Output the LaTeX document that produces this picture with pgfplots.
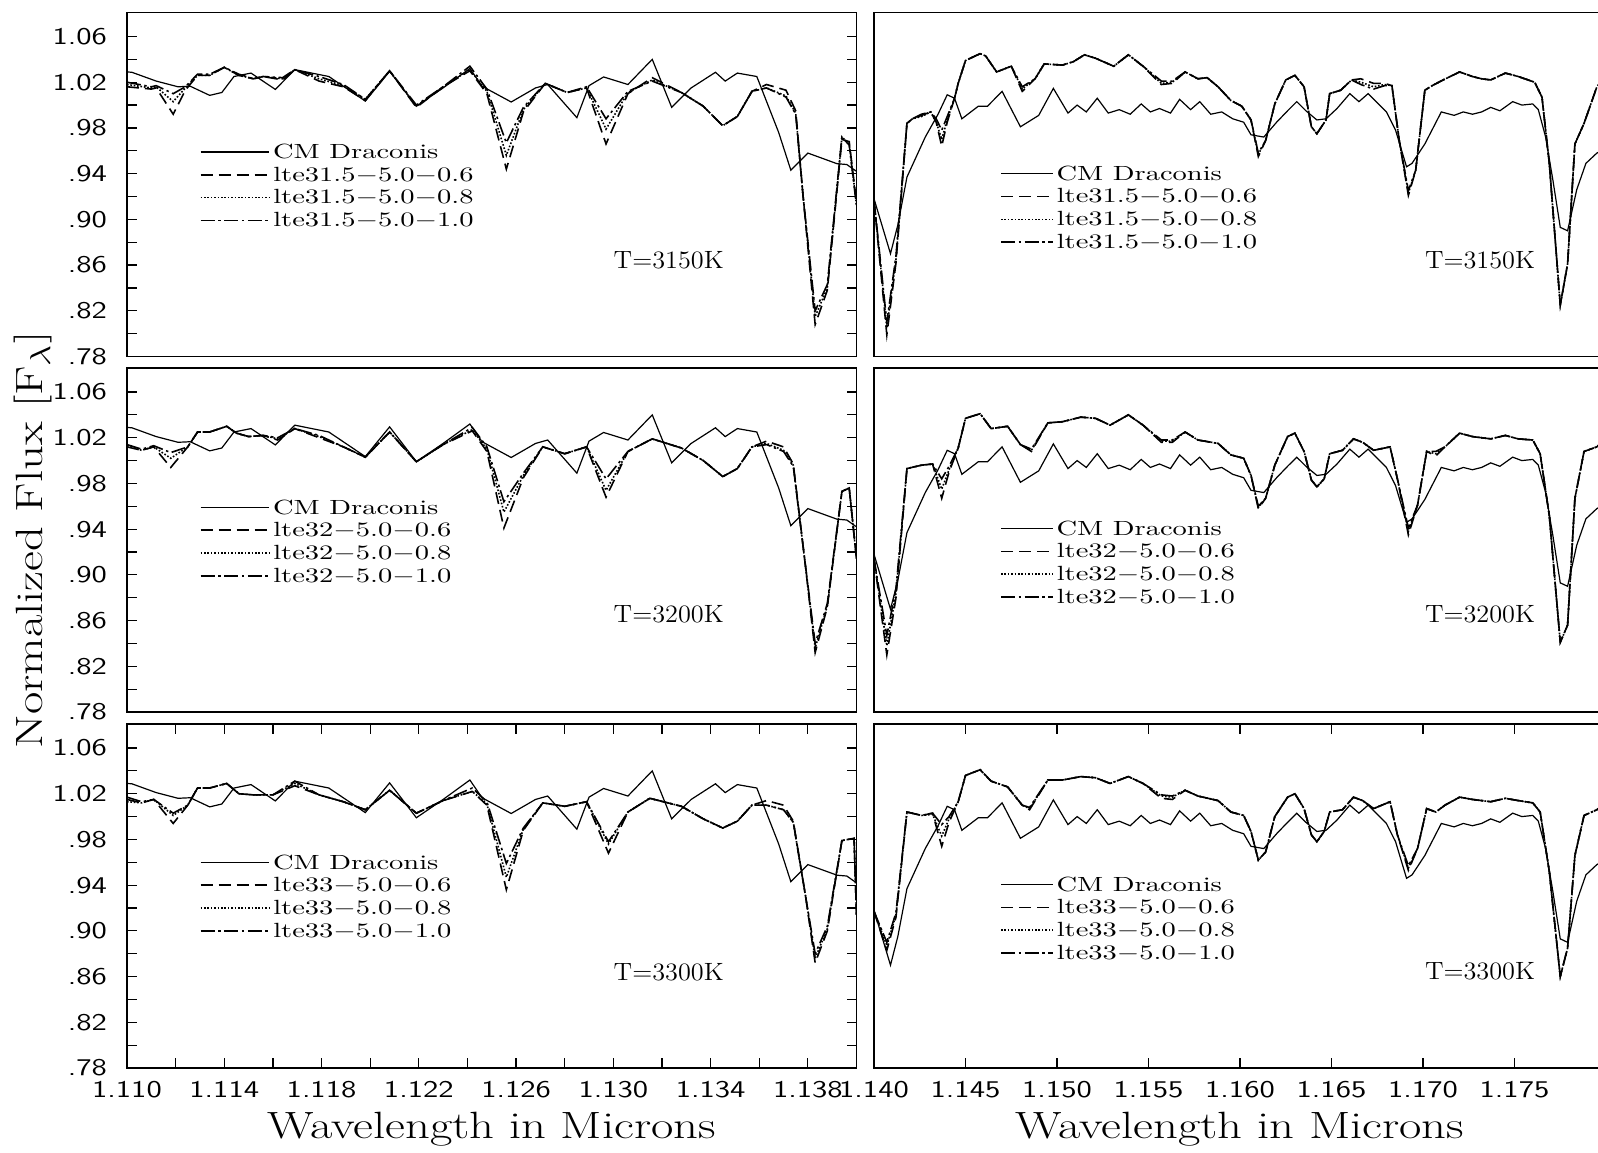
\documentclass[border=0pt]{standalone}
\usepackage{graphicx}
\usepackage{pgfplots}
\pgfplotsset{compat=1.18}
\usepackage{pgfplotstable}

% observed spectrum, left column
\pgfplotstableread{
x y
1.1100 1.0290
1.1102 1.0287
1.1112 1.0210
1.1121 1.0160
1.1126 1.0165
1.1134 1.0085
1.1139 1.0110
1.1144 1.0250
1.1151 1.0280
1.1161 1.0137
1.1169 1.0310
1.1183 1.0250
1.1198 1.0035
1.1208 1.0295
1.1219 0.9990
1.1230 1.0150
1.1241 1.0320
1.1246 1.0165
1.1258 1.0027
1.1268 1.0150
1.1273 1.0180
1.1285 0.9890
1.1290 1.0170
1.1296 1.0246
1.1306 1.0180
1.1316 1.0400
1.1324 0.9980
1.1332 1.0150
1.1342 1.0287
1.1346 1.0210
1.1351 1.0280
1.1359 1.0250
1.1368 0.9760
1.1373 0.9430
1.1380 0.9580
1.1392 0.9487
1.1396 0.9480
1.1400 0.9420
}\obsL

% observed spectrum, right column
\pgfplotstableread{
x y
1.1400 0.918
1.1409 0.870
1.1413 0.895
1.1418 0.937
1.1428 0.972
1.1435 0.992
1.1440 1.009
1.1444 1.006
1.1448 0.988
1.1457 0.999
1.1462 0.999
1.1470 1.012
1.1480 0.981
1.1490 0.991
1.1498 1.0146
1.1506 0.993
1.1511 1.000
1.1516 0.994
1.1522 1.006
1.1528 0.993
1.1534 0.996
1.1540 0.992
1.1546 1.001
1.1551 0.994
1.1556 0.997
1.1562 0.993
1.1567 1.005
1.1573 0.996
1.1578 1.003
1.1584 0.992
1.1590 0.994
1.1596 0.988
1.1602 0.985
1.1606 0.974
1.1613 0.972
1.1620 0.985
1.1626 0.995
1.1631 1.003
1.1636 0.995
1.1642 0.987
1.1647 0.988
1.1653 0.997
1.1660 1.010
1.1665 1.003
1.1670 1.010
1.1680 0.994
1.1685 0.978
1.1691 0.946
1.1694 0.949
1.1701 0.966
1.1710 0.994
1.1717 0.991
1.1722 0.994
1.1727 0.992
1.1732 0.994
1.1737 0.998
1.1742 0.995
1.1749 1.003
1.1754 1.000
1.1760 1.001
1.1763 0.996
1.1767 0.972
1.1771 0.934
1.1775 0.893
1.1779 0.890
1.1784 0.926
1.1789 0.949
1.1795 0.958
1.1800 0.962
}\obsR

% models, left column, T=3150K  (a: -0.6, b: -0.8, c: -1.0)
\pgfplotstableread{
x a b c
1.1100 1.016 1.018 1.020
1.1110 1.014 1.015 1.016
1.1112 1.015 1.016 1.017
1.1119 0.992 1.003 1.010
1.1124 1.013 1.015 1.016
1.1129 1.026 1.026 1.027
1.1134 1.026 1.026 1.027
1.1140 1.033 1.033 1.033
1.1146 1.026 1.026 1.027
1.1152 1.023 1.023 1.023
1.1156 1.025 1.025 1.025
1.1164 1.022 1.023 1.024
1.1169 1.031 1.031 1.031
1.1179 1.021 1.023 1.025
1.1189 1.016 1.017 1.018
1.1198 1.004 1.005 1.005
1.1208 1.030 1.030 1.030
1.1219 0.998 0.999 1.000
1.1230 1.016 1.016 1.016
1.1241 1.030 1.031 1.034
1.1248 1.010 1.012 1.014
1.1256 0.944 0.956 0.967
1.1263 0.994 0.996 0.998
1.1272 1.019 1.019 1.019
1.1281 1.011 1.011 1.011
1.1289 1.015 1.015 1.016
1.1297 0.966 0.979 0.988
1.1306 1.010 1.011 1.012
1.1316 1.024 1.022 1.021
1.1328 1.011 1.011 1.011
1.1337 0.999 0.999 0.999
1.1345 0.982 0.982 0.982
1.1351 0.990 0.990 0.990
1.1357 1.012 1.012 1.012
1.1363 1.018 1.015 1.015
1.1371 1.013 1.008 1.007
1.1375 0.995 0.993 0.992
1.1378 0.921 0.921 0.921
1.1383 0.808 0.815 0.820
1.1388 0.838 0.840 0.843
1.1394 0.970 0.972 0.972
1.1397 0.968 0.966 0.965
1.1400 0.915 0.913 0.912
}\modLa

% models, left column, T=3200K
\pgfplotstableread{
x a b c
1.1100 1.012 1.013 1.014
1.1106 1.009 1.009 1.010
1.1111 1.012 1.012 1.013
1.1118 0.994 1.002 1.007
1.1125 1.012 1.012 1.012
1.1129 1.025 1.025 1.025
1.1134 1.025 1.025 1.025
1.1141 1.030 1.030 1.030
1.1145 1.024 1.024 1.024
1.1150 1.021 1.021 1.021
1.1156 1.022 1.022 1.022
1.1162 1.018 1.019 1.020
1.1169 1.028 1.028 1.028
1.1179 1.020 1.021 1.022
1.1189 1.012 1.012 1.012
1.1198 1.003 1.003 1.003
1.1208 1.025 1.025 1.025
1.1219 0.999 0.999 0.999
1.1230 1.014 1.014 1.014
1.1242 1.026 1.027 1.029
1.1248 1.008 1.010 1.012
1.1255 0.941 0.955 0.964
1.1263 0.985 0.987 0.989
1.1271 1.012 1.012 1.012
1.1280 1.006 1.006 1.006
1.1289 1.012 1.012 1.012
1.1297 0.968 0.974 0.984
1.1306 1.008 1.008 1.008
1.1316 1.019 1.019 1.019
1.1328 1.011 1.011 1.011
1.1337 1.000 1.000 1.000
1.1345 0.986 0.986 0.986
1.1351 0.993 0.993 0.993
1.1357 1.012 1.012 1.012
1.1363 1.017 1.015 1.014
1.1370 1.012 1.009 1.008
1.1374 0.997 0.996 0.995
1.1379 0.908 0.908 0.908
1.1383 0.832 0.836 0.840
1.1388 0.872 0.873 0.875
1.1394 0.973 0.973 0.973
1.1397 0.976 0.976 0.976
1.1400 0.914 0.914 0.914
}\modLb

% models, left column, T=3300K
\pgfplotstableread{
x a b c
1.1100 1.015 1.013 1.017
1.1106 1.012 1.012 1.013
1.1111 1.015 1.015 1.015
1.1119 0.994 1.001 1.003
1.1125 1.010 1.010 1.010
1.1129 1.025 1.025 1.025
1.1134 1.025 1.025 1.025
1.1141 1.029 1.029 1.029
1.1146 1.020 1.020 1.020
1.1152 1.019 1.019 1.019
1.1160 1.019 1.019 1.019
1.1169 1.027 1.029 1.031
1.1179 1.019 1.019 1.019
1.1189 1.013 1.013 1.013
1.1198 1.006 1.006 1.006
1.1208 1.023 1.023 1.023
1.1219 1.003 1.003 1.003
1.1230 1.014 1.014 1.014
1.1242 1.022 1.022 1.025
1.1248 1.010 1.011 1.013
1.1256 0.936 0.947 0.959
1.1263 0.988 0.989 0.990
1.1271 1.012 1.012 1.012
1.1280 1.009 1.009 1.009
1.1289 1.013 1.013 1.013
1.1298 0.968 0.976 0.978
1.1306 1.004 1.004 1.004
1.1315 1.016 1.016 1.016
1.1328 1.009 1.009 1.009
1.1337 0.998 0.998 0.998
1.1345 0.990 0.990 0.990
1.1351 0.996 0.996 0.996
1.1357 1.010 1.010 1.010
1.1363 1.014 1.010 1.010
1.1370 1.010 1.006 1.006
1.1374 0.996 0.995 0.995
1.1379 0.931 0.931 0.931
1.1383 0.872 0.876 0.880
1.1388 0.900 0.902 0.904
1.1394 0.979 0.979 0.979
1.1399 0.981 0.981 0.981
1.1400 0.914 0.914 0.914
}\modLc

% models, right column, T=3150K
\pgfplotstableread{
x a b c
1.1400 0.917 0.917 0.917
1.1407 0.799 0.805 0.810
1.1412 0.862 0.865 0.868
1.1418 0.984 0.984 0.984
1.1421 0.988 0.988 0.988
1.1426 0.991 0.990 0.992
1.1431 0.994 0.994 0.994
1.1434 0.985 0.985 0.988
1.1437 0.964 0.970 0.978
1.1440 0.985 0.987 0.990
1.1444 1.006 1.006 1.006
1.1446 1.019 1.019 1.019
1.1450 1.039 1.039 1.039
1.1458 1.045 1.045 1.045
1.1461 1.043 1.043 1.043
1.1467 1.029 1.029 1.029
1.1475 1.034 1.034 1.034
1.1481 1.012 1.014 1.016
1.1488 1.023 1.023 1.023
1.1493 1.036 1.036 1.036
1.1503 1.035 1.035 1.035
1.1509 1.038 1.038 1.038
1.1515 1.044 1.044 1.044
1.1521 1.041 1.041 1.041
1.1531 1.034 1.034 1.034
1.1539 1.044 1.044 1.044
1.1547 1.034 1.034 1.034
1.1557 1.018 1.019 1.021
1.1563 1.019 1.020 1.021
1.1570 1.029 1.029 1.029
1.1577 1.023 1.023 1.023
1.1582 1.024 1.024 1.024
1.1588 1.016 1.016 1.016
1.1595 1.004 1.004 1.004
1.1601 0.999 0.999 0.999
1.1606 0.987 0.987 0.987
1.1610 0.955 0.957 0.958
1.1614 0.969 0.969 0.969
1.1619 1.001 1.001 1.001
1.1625 1.022 1.022 1.022
1.1630 1.026 1.026 1.026
1.1635 1.016 1.016 1.016
1.1639 0.981 0.981 0.981
1.1642 0.975 0.975 0.975
1.1647 0.987 0.987 0.987
1.1649 1.010 1.010 1.010
1.1655 1.013 1.013 1.013
1.1661 1.022 1.022 1.022
1.1666 1.023 1.020 1.018
1.1673 1.019 1.016 1.014
1.1679 1.019 1.018 1.017
1.1683 1.017 1.017 1.017
1.1687 0.969 0.969 0.969
1.1692 0.921 0.923 0.925
1.1696 0.943 0.943 0.943
1.1701 1.013 1.013 1.013
1.1705 1.017 1.017 1.017
1.1711 1.022 1.022 1.022
1.1720 1.029 1.029 1.029
1.1727 1.025 1.025 1.025
1.1732 1.023 1.023 1.023
1.1737 1.022 1.022 1.022
1.1745 1.028 1.028 1.028
1.1752 1.025 1.025 1.025
1.1761 1.020 1.020 1.020
1.1765 1.007 1.007 1.007
1.1769 0.949 0.949 0.949
1.1775 0.825 0.825 0.825
1.1779 0.861 0.861 0.861
1.1783 0.966 0.966 0.966
1.1788 0.984 0.984 0.984
1.1795 1.016 1.016 1.016
1.1800 1.025 1.025 1.025
}\modRa

% models, right column, T=3200K
\pgfplotstableread{
x a b c
1.1400 0.914 0.914 0.914
1.1407 0.830 0.838 0.847
1.1412 0.880 0.884 0.888
1.1418 0.993 0.993 0.993
1.1426 0.996 0.996 0.996
1.1432 0.997 0.997 0.997
1.1437 0.967 0.975 0.984
1.1441 0.990 0.992 0.995
1.1446 1.011 1.011 1.011
1.1450 1.037 1.037 1.037
1.1458 1.041 1.041 1.041
1.1464 1.028 1.028 1.028
1.1473 1.030 1.030 1.030
1.1480 1.014 1.014 1.014
1.1486 1.008 1.009 1.010
1.1495 1.033 1.033 1.033
1.1503 1.034 1.034 1.034
1.1513 1.038 1.038 1.038
1.1521 1.037 1.037 1.037
1.1529 1.031 1.031 1.031
1.1539 1.040 1.040 1.040
1.1547 1.031 1.031 1.031
1.1557 1.016 1.017 1.018
1.1563 1.016 1.017 1.018
1.1570 1.025 1.025 1.025
1.1577 1.018 1.018 1.018
1.1588 1.015 1.015 1.015
1.1595 1.005 1.005 1.005
1.1602 1.002 1.002 1.002
1.1606 0.987 0.987 0.987
1.1610 0.958 0.959 0.960
1.1614 0.967 0.967 0.967
1.1619 0.996 0.996 0.996
1.1626 1.021 1.021 1.021
1.1630 1.024 1.024 1.024
1.1635 1.008 1.008 1.008
1.1639 0.983 0.983 0.983
1.1642 0.977 0.977 0.977
1.1646 0.984 0.984 0.984
1.1649 1.006 1.006 1.006
1.1656 1.009 1.009 1.009
1.1662 1.019 1.019 1.019
1.1667 1.016 1.016 1.016
1.1673 1.009 1.009 1.009
1.1682 1.012 1.012 1.012
1.1686 0.984 0.984 0.984
1.1692 0.935 0.938 0.941
1.1697 0.961 0.961 0.961
1.1702 1.008 1.008 1.008
1.1707 1.004 1.006 1.008
1.1712 1.012 1.012 1.012
1.1720 1.024 1.024 1.024
1.1727 1.021 1.021 1.021
1.1737 1.019 1.019 1.019
1.1745 1.022 1.022 1.022
1.1752 1.019 1.019 1.019
1.1760 1.018 1.018 1.018
1.1764 1.006 1.006 1.006
1.1769 0.952 0.952 0.952
1.1775 0.841 0.841 0.841
1.1779 0.856 0.856 0.856
1.1783 0.967 0.967 0.967
1.1788 1.008 1.008 1.008
1.1795 1.012 1.012 1.012
1.1800 1.020 1.020 1.020
}\modRb

% models, right column, T=3300K
\pgfplotstableread{
x a b c
1.1400 0.917 0.917 0.917
1.1407 0.883 0.887 0.890
1.1412 0.912 0.914 0.916
1.1418 1.004 1.004 1.004
1.1426 1.001 1.001 1.001
1.1432 1.003 1.002 1.003
1.1437 0.974 0.983 0.993
1.1441 0.995 0.998 1.000
1.1446 1.013 1.013 1.013
1.1450 1.036 1.036 1.036
1.1458 1.041 1.041 1.041
1.1464 1.031 1.031 1.031
1.1473 1.026 1.026 1.026
1.1481 1.010 1.010 1.010
1.1485 1.006 1.007 1.008
1.1495 1.032 1.032 1.032
1.1503 1.032 1.032 1.032
1.1513 1.035 1.035 1.035
1.1521 1.034 1.034 1.034
1.1529 1.029 1.029 1.029
1.1539 1.035 1.035 1.035
1.1547 1.029 1.029 1.029
1.1557 1.016 1.018 1.019
1.1563 1.015 1.017 1.018
1.1570 1.023 1.023 1.023
1.1577 1.018 1.018 1.018
1.1588 1.014 1.014 1.014
1.1595 1.004 1.004 1.004
1.1602 1.001 1.001 1.001
1.1606 0.987 0.987 0.987
1.1610 0.962 0.962 0.962
1.1614 0.969 0.969 0.969
1.1619 1.000 1.000 1.000
1.1626 1.017 1.017 1.017
1.1630 1.020 1.020 1.020
1.1635 1.007 1.007 1.007
1.1639 0.984 0.984 0.984
1.1642 0.978 0.978 0.978
1.1646 0.987 0.987 0.987
1.1649 1.004 1.004 1.004
1.1656 1.006 1.006 1.006
1.1662 1.017 1.017 1.017
1.1667 1.014 1.014 1.014
1.1673 1.007 1.007 1.007
1.1682 1.013 1.013 1.013
1.1686 0.984 0.984 0.984
1.1692 0.953 0.955 0.957
1.1697 0.972 0.972 0.972
1.1702 1.007 1.007 1.007
1.1707 1.004 1.004 1.004
1.1712 1.010 1.010 1.010
1.1720 1.017 1.017 1.017
1.1727 1.015 1.015 1.015
1.1737 1.013 1.013 1.013
1.1745 1.016 1.016 1.016
1.1752 1.014 1.014 1.014
1.1760 1.012 1.012 1.012
1.1764 1.004 1.004 1.004
1.1769 0.952 0.952 0.952
1.1775 0.860 0.860 0.860
1.1779 0.885 0.885 0.885
1.1783 0.966 0.966 0.966
1.1788 1.001 1.001 1.001
1.1795 1.006 1.006 1.006
1.1800 1.012 1.012 1.012
}\modRc

\newcommand\legfont{\fontsize{10.8}{12}\selectfont}
\newcommand\tfont{\fontsize{12.5}{14}\selectfont}
\newcommand\labfont{\fontsize{19}{23}\selectfont}
\newcommand\legtxt[1]{\scalebox{1.32}[0.95]{#1}}
\newcommand\labtxt[1]{\scalebox{1.28}[1]{#1}}
\newcommand\tl[1]{\scalebox{1.3}[1]{#1}}

\tikzset{
  obs/.style={black, line width=0.6pt},
  m6/.style={black, line width=0.8pt, dash pattern=on 6pt off 3pt},
  m8/.style={black, line width=0.8pt, dash pattern=on 0.8pt off 0.9pt},
  m10/.style={black, line width=0.8pt, dash pattern=on 7pt off 1.8pt on 1.2pt off 1.8pt},
  leg/.style={anchor=west, inner sep=0pt, xshift=1.5pt, font=\legfont},
}

\pgfplotsset{
  panel/.style={
    scale only axis, height=172pt,
    anchor=north west,
    ymin=0.78, ymax=1.081,
    axis line style={line width=0.9pt},
    tick align=inside,
    major tick length=5pt, minor tick length=5pt,
    every tick/.style={black, line width=0.6pt},
    every minor tick/.style={black, line width=0.6pt},
    tick label style={font=\fontsize{12}{14}\sffamily},
    xticklabel style={yshift=-3pt},
    yticklabel style={xshift=-6.5pt},
  },
  leftpanel/.style={panel, width=364.75pt, xmin=1.110, xmax=1.140,
    ytick={0.78,0.82,0.86,0.90,0.94,0.98,1.02,1.06},
    yticklabels={\tl{.78},\tl{.82},\tl{.86},\tl{.90},\tl{.94},\tl{.98},\tl{1.02},\tl{1.06}},
    minor ytick={0.80,0.84,0.88,0.92,0.96,1.00,1.04},
    ytick pos=both, yticklabel pos=left},
  rightpanel/.style={panel, width=366pt, xmin=1.140, xmax=1.180, ytick=\empty},
}

\begin{document}
\begin{tikzpicture}
\useasboundingbox (0pt,0pt) rectangle (799pt,-576pt);

% ---------- left column ----------
\begin{axis}[leftpanel, at={(63.5pt,-6.25pt)}, xtick=\empty]
\addplot[obs] table[x=x,y=y] {\obsL};
\addplot[m6] table[x=x,y=a] {\modLa};
\addplot[m8] table[x=x,y=b] {\modLa};
\addplot[m10] table[x=x,y=c] {\modLa};
\draw[obs] (axis cs:1.11303,0.959) -- (axis cs:1.11586,0.959) node[leg]{\legtxt{CM Draconis}};
\draw[m6] (axis cs:1.11303,0.939) -- (axis cs:1.11586,0.939) node[leg]{\legtxt{lte31.5$-$5.0$-$0.6}};
\draw[m8] (axis cs:1.11303,0.919) -- (axis cs:1.11586,0.919) node[leg]{\legtxt{lte31.5$-$5.0$-$0.8}};
\draw[m10] (axis cs:1.11303,0.899) -- (axis cs:1.11586,0.899) node[leg]{\legtxt{lte31.5$-$5.0$-$1.0}};
\node[anchor=west,font=\tfont,inner sep=0pt] at (axis cs:1.1300,0.864) {\scalebox{1.05}[1]{T=3150K}};
\end{axis}

\begin{axis}[leftpanel, at={(63.5pt,-184pt)}, xtick=\empty,
  ylabel={\labtxt{Normalized Flux [F$_\lambda$]}},
  ylabel style={font=\labfont, at={(axis description cs:-0.1294,0.5)}, anchor=center}]
\addplot[obs] table[x=x,y=y] {\obsL};
\addplot[m6] table[x=x,y=a] {\modLb};
\addplot[m8] table[x=x,y=b] {\modLb};
\addplot[m10] table[x=x,y=c] {\modLb};
\draw[obs] (axis cs:1.11303,0.959) -- (axis cs:1.11586,0.959) node[leg]{\legtxt{CM Draconis}};
\draw[m6] (axis cs:1.11303,0.939) -- (axis cs:1.11586,0.939) node[leg]{\legtxt{lte32$-$5.0$-$0.6}};
\draw[m8] (axis cs:1.11303,0.919) -- (axis cs:1.11586,0.919) node[leg]{\legtxt{lte32$-$5.0$-$0.8}};
\draw[m10] (axis cs:1.11303,0.899) -- (axis cs:1.11586,0.899) node[leg]{\legtxt{lte32$-$5.0$-$1.0}};
\node[anchor=west,font=\tfont,inner sep=0pt] at (axis cs:1.1300,0.8656) {\scalebox{1.05}[1]{T=3200K}};
\end{axis}

\begin{axis}[leftpanel, at={(63.5pt,-362pt)},
  xtick={1.110,1.114,1.118,1.122,1.126,1.130,1.134,1.138},
  xticklabels={\tl{1.110},\tl{1.114},\tl{1.118},\tl{1.122},\tl{1.126},\tl{1.130},\tl{1.134},\tl{1.138}},
  minor xtick={1.112,1.116,1.120,1.124,1.128,1.132,1.136},
  xtick pos=both, xticklabel pos=lower,
  xlabel={\labtxt{Wavelength in Microns}},
  xlabel style={font=\labfont, at={(axis description cs:0.5,-0.1773)}, anchor=center}]
\addplot[obs] table[x=x,y=y] {\obsL};
\addplot[m6] table[x=x,y=a] {\modLc};
\addplot[m8] table[x=x,y=b] {\modLc};
\addplot[m10] table[x=x,y=c] {\modLc};
\draw[obs] (axis cs:1.11303,0.960) -- (axis cs:1.11586,0.960) node[leg]{\legtxt{CM Draconis}};
\draw[m6] (axis cs:1.11303,0.940) -- (axis cs:1.11586,0.940) node[leg]{\legtxt{lte33$-$5.0$-$0.6}};
\draw[m8] (axis cs:1.11303,0.920) -- (axis cs:1.11586,0.920) node[leg]{\legtxt{lte33$-$5.0$-$0.8}};
\draw[m10] (axis cs:1.11303,0.900) -- (axis cs:1.11586,0.900) node[leg]{\legtxt{lte33$-$5.0$-$1.0}};
\node[anchor=west,font=\tfont,inner sep=0pt] at (axis cs:1.1300,0.864) {\scalebox{1.05}[1]{T=3300K}};
\end{axis}

% ---------- right column ----------
\begin{axis}[rightpanel, at={(437pt,-6.25pt)}, xtick=\empty]
\addplot[obs] table[x=x,y=y] {\obsR};
\addplot[m6] table[x=x,y=a] {\modRa};
\addplot[m8] table[x=x,y=b] {\modRa};
\addplot[m10] table[x=x,y=c] {\modRa};
\draw[obs] (axis cs:1.14694,0.940) -- (axis cs:1.14978,0.940) node[leg]{\legtxt{CM Draconis}};
\draw[m6] (axis cs:1.14694,0.920) -- (axis cs:1.14978,0.920) node[leg]{\legtxt{lte31.5$-$5.0$-$0.6}};
\draw[m8] (axis cs:1.14694,0.900) -- (axis cs:1.14978,0.900) node[leg]{\legtxt{lte31.5$-$5.0$-$0.8}};
\draw[m10] (axis cs:1.14694,0.880) -- (axis cs:1.14978,0.880) node[leg]{\legtxt{lte31.5$-$5.0$-$1.0}};
\node[anchor=west,font=\tfont,inner sep=0pt] at (axis cs:1.17009,0.864) {\scalebox{1.05}[1]{T=3150K}};
\end{axis}

\begin{axis}[rightpanel, at={(437pt,-184pt)}, xtick=\empty]
\addplot[obs] table[x=x,y=y] {\obsR};
\addplot[m6] table[x=x,y=a] {\modRb};
\addplot[m8] table[x=x,y=b] {\modRb};
\addplot[m10] table[x=x,y=c] {\modRb};
\draw[obs] (axis cs:1.14694,0.9406) -- (axis cs:1.14978,0.9406) node[leg]{\legtxt{CM Draconis}};
\draw[m6] (axis cs:1.14694,0.9206) -- (axis cs:1.14978,0.9206) node[leg]{\legtxt{lte32$-$5.0$-$0.6}};
\draw[m8] (axis cs:1.14694,0.9006) -- (axis cs:1.14978,0.9006) node[leg]{\legtxt{lte32$-$5.0$-$0.8}};
\draw[m10] (axis cs:1.14694,0.8806) -- (axis cs:1.14978,0.8806) node[leg]{\legtxt{lte32$-$5.0$-$1.0}};
\node[anchor=west,font=\tfont,inner sep=0pt] at (axis cs:1.17009,0.8656) {\scalebox{1.05}[1]{T=3200K}};
\end{axis}

\begin{axis}[rightpanel, at={(437pt,-362pt)},
  xtick={1.140,1.145,1.150,1.155,1.160,1.165,1.170,1.175},
  xticklabels={\tl{1.140},\tl{1.145},\tl{1.150},\tl{1.155},\tl{1.160},\tl{1.165},\tl{1.170},\tl{1.175}},
  xtick pos=both, xticklabel pos=lower,
  xlabel={\labtxt{Wavelength in Microns}},
  xlabel style={font=\labfont, at={(axis description cs:0.5,-0.1773)}, anchor=center}]
\addplot[obs] table[x=x,y=y] {\obsR};
\addplot[m6] table[x=x,y=a] {\modRc};
\addplot[m8] table[x=x,y=b] {\modRc};
\addplot[m10] table[x=x,y=c] {\modRc};
\draw[obs] (axis cs:1.14694,0.9406) -- (axis cs:1.14978,0.9406) node[leg]{\legtxt{CM Draconis}};
\draw[m6] (axis cs:1.14694,0.9206) -- (axis cs:1.14978,0.9206) node[leg]{\legtxt{lte33$-$5.0$-$0.6}};
\draw[m8] (axis cs:1.14694,0.9006) -- (axis cs:1.14978,0.9006) node[leg]{\legtxt{lte33$-$5.0$-$0.8}};
\draw[m10] (axis cs:1.14694,0.8806) -- (axis cs:1.14978,0.8806) node[leg]{\legtxt{lte33$-$5.0$-$1.0}};
\node[anchor=west,font=\tfont,inner sep=0pt] at (axis cs:1.17009,0.865) {\scalebox{1.05}[1]{T=3300K}};
\end{axis}
\end{tikzpicture}
\end{document}
